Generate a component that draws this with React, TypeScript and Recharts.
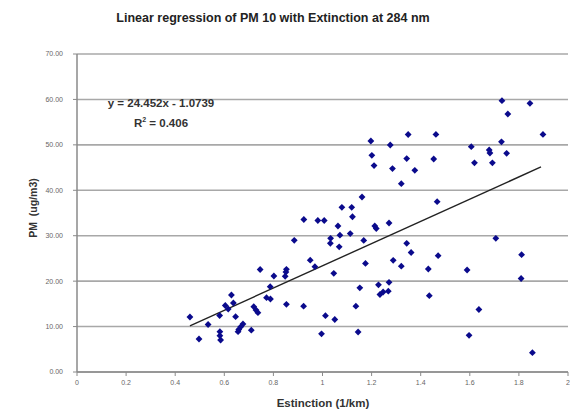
import React from 'react';
import { ScatterChart, Scatter, XAxis, YAxis, CartesianGrid, ReferenceLine } from 'recharts';

const extinction = [
  0.46, 0.497, 0.534, 0.581, 0.582, 0.582, 0.585, 0.604, 0.616, 0.629,
  0.637, 0.646, 0.676, 0.667, 0.659, 0.656, 0.71, 0.72, 0.729, 0.737,
  0.746, 0.772, 0.788, 0.787, 0.802, 0.853, 0.851, 0.848, 0.853, 0.885,
  0.923, 0.924, 0.981, 1.007, 0.95, 0.969, 1.012, 0.996, 1.033, 1.032,
  1.046, 1.05, 1.063, 1.071, 1.068, 1.079, 1.119, 1.122, 1.113, 1.136,
  1.145, 1.152, 1.161, 1.168, 1.175, 1.197, 1.201, 1.21, 1.213, 1.219,
  1.228, 1.234, 1.247, 1.268, 1.271, 1.271, 1.276, 1.285, 1.288, 1.321,
  1.321, 1.343, 1.349, 1.343, 1.361, 1.376, 1.431, 1.435, 1.453, 1.462,
  1.467, 1.471, 1.589, 1.597, 1.606, 1.619, 1.637, 1.679, 1.682, 1.692,
  1.706, 1.729, 1.731, 1.75, 1.755, 1.811, 1.809, 1.845, 1.855, 1.898,
];

const pm10 = [
  12.11, 7.26, 10.46, 12.44, 8.87, 7.99, 7.04, 14.64, 13.87, 16.95,
  15.19, 12.17, 10.57, 9.95, 9.36, 8.87, 9.2, 14.37, 13.65, 13.05,
  22.56, 16.35, 16.07, 18.78, 21.13, 22.61, 22.01, 21.07, 14.9, 28.99,
  14.48, 33.57, 33.35, 33.35, 24.61, 23.18, 12.39, 8.41, 29.43, 28.33,
  21.73, 11.56, 32.14, 30.11, 27.56, 36.25, 36.25, 34.18, 30.46, 14.48,
  8.8, 18.53, 38.52, 28.97, 23.9, 50.85, 47.7, 45.45, 32.14, 31.59,
  19.19, 17.06, 17.61, 17.79, 19.74, 32.8, 49.97, 44.79, 24.59, 41.45,
  23.29, 46.99, 52.28, 28.33, 26.3, 44.4, 22.67, 16.8, 46.89, 52.3,
  37.49, 25.6, 22.45, 8.08, 49.59, 46.05, 13.76, 48.87, 48.21, 46.05,
  29.43, 50.67, 59.72, 48.14, 56.79, 25.82, 20.58, 59.15, 4.25, 52.3,
];

const trendX = [0.46, 1.89];
const trendY = [10.17, 45.14];

const xTicks = [0, 0.2, 0.4, 0.6, 0.8, 1, 1.2, 1.4, 1.6, 1.8, 2];
const yTicks = [0, 10, 20, 30, 40, 50, 60, 70];

const titleText = 'Linear regression of PM 10 with Extinction at 284 nm';
const xLabelText = 'Estinction (1/km)';
const yLabelText = 'PM  (ug/m3)';
const eqText = 'y = 24.452x - 1.0739';

const points = extinction.map((x, i) => ({ x, y: pm10[i] }));

const FONT = '"Liberation Sans", Arial, sans-serif';

const Diamond = (props: any) => {
  const { cx, cy } = props;
  if (cx == null || cy == null) return null;
  const r = 3.4;
  return (
    <polygon
      points={`${cx},${cy - r} ${cx + r},${cy} ${cx},${cy + r} ${cx - r},${cy}`}
      fill="#0a0a8c"
    />
  );
};

export default function App() {
  return (
    <div style={{ position: 'absolute', left: 0, top: 0, width: 570, height: 411, background: '#fff', fontFamily: FONT }}>
      <ScatterChart width={570} height={411} margin={{ top: 54, right: 2, bottom: 9, left: 10 }}>
        <CartesianGrid horizontal vertical={false} stroke="#a8a8a8" strokeWidth={1.6} />
        <XAxis
          type="number"
          dataKey="x"
          domain={[0, 2]}
          ticks={xTicks}
          tickFormatter={(v: number) => String(v)}
          height={30}
          tickSize={4}
          tickMargin={4}
          axisLine={{ stroke: '#8a8a8a', strokeWidth: 1.5 }}
          tickLine={{ stroke: '#8a8a8a' }}
          tick={{ fontSize: 7, fill: '#666', fontFamily: FONT }}
          allowDataOverflow
        />
        <YAxis
          type="number"
          dataKey="y"
          domain={[0, 70]}
          ticks={yTicks}
          tickFormatter={(v: number) => v.toFixed(2)}
          width={67}
          tickSize={4}
          tickMargin={10}
          axisLine={{ stroke: '#8a8a8a', strokeWidth: 1.5 }}
          tickLine={{ stroke: '#8a8a8a' }}
          tick={{ fontSize: 7, fill: '#666', fontFamily: FONT }}
          allowDataOverflow
        />
        <Scatter data={points} shape={Diamond} isAnimationActive={false} />
        <ReferenceLine
          segment={[
            { x: trendX[0], y: trendY[0] },
            { x: trendX[1], y: trendY[1] },
          ]}
          stroke="#222"
          strokeWidth={1.4}
          ifOverflow="extendDomain"
        />
      </ScatterChart>
      <div style={{ position: 'absolute', left: 273, top: 18, transform: 'translate(-50%, -50%)', fontSize: 12.5, fontWeight: 'bold', color: '#222', whiteSpace: 'nowrap' }}>
        {titleText}
      </div>
      <div style={{ position: 'absolute', left: 323, top: 403, transform: 'translate(-50%, -50%)', fontSize: 11.5, fontWeight: 'bold', color: '#333', whiteSpace: 'nowrap' }}>
        {xLabelText}
      </div>
      <div style={{ position: 'absolute', left: 33, top: 208, transform: 'translate(-50%, -50%) rotate(-90deg)', fontSize: 10.5, fontWeight: 'bold', color: '#333', whiteSpace: 'pre' }}>
        {yLabelText}
      </div>
      <div style={{ position: 'absolute', left: 161, top: 103, transform: 'translate(-50%, -50%)', fontSize: 11.5, fontWeight: 'bold', color: '#333', whiteSpace: 'nowrap' }}>
        {eqText}
      </div>
      <div style={{ position: 'absolute', left: 161, top: 123, transform: 'translate(-50%, -50%)', fontSize: 11.5, fontWeight: 'bold', color: '#333', whiteSpace: 'nowrap' }}>
        R<sup style={{ fontSize: 7, verticalAlign: 'top', position: 'relative', top: -1 }}>2</sup> = 0.406
      </div>
    </div>
  );
}
